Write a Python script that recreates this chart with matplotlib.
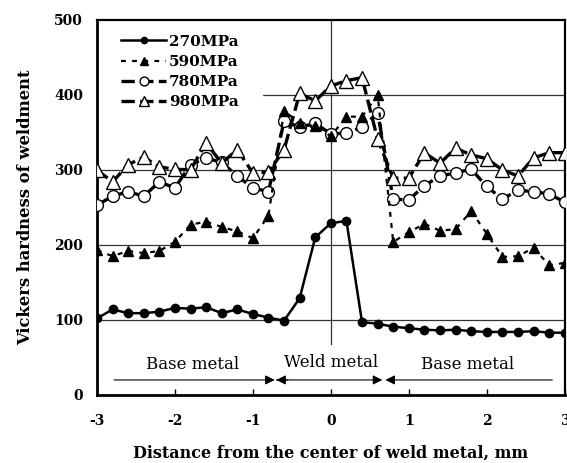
import numpy as np
import matplotlib.pyplot as plt

# distance from weld centre, mm (0.2 mm pitch)
dist = np.round(np.arange(-3.0, 3.01, 0.2), 1)

hv_270 = [102, 114, 109, 109, 111, 116, 115, 117, 109, 114, 108, 103, 99,
          129, 210, 229, 232, 97, 95, 91, 89, 87, 86, 87, 85, 84, 84, 84,
          85, 83, 83]
hv_590 = [193, 185, 192, 189, 192, 204, 227, 231, 224, 218, 209, 239, 379,
          362, 358, 345, 371, 371, 400, 204, 217, 228, 219, 221, 245, 215,
          184, 185, 196, 173, 176]
hv_780 = [253, 265, 271, 265, 284, 276, 307, 316, 310, 292, 276, 271, 365,
          357, 362, 348, 349, 357, 376, 261, 260, 279, 292, 296, 301, 278,
          261, 273, 271, 268, 257]
hv_980 = [300, 284, 307, 317, 304, 301, 300, 336, 309, 327, 296, 297, 327,
          402, 392, 412, 419, 423, 341, 289, 289, 323, 309, 329, 320, 315,
          300, 292, 316, 323, 323]

labels = ['270MPa', '590MPa', '780MPa', '980MPa']

plt.rcParams['font.family'] = ['DejaVu Serif']

fig = plt.figure(figsize=(5.67, 4.63), dpi=100)
ax = fig.add_axes([0.171, 0.147, 0.825, 0.81])

# grid
for yv in [100, 200, 300, 400]:
    ax.axhline(yv, color='#333333', lw=0.9, zorder=1)
ax.axvline(0, ymin=68 / 500, ymax=1, color='#333333', lw=0.9, zorder=1)

ax.plot(dist, hv_270, '-', color='black', lw=1.8, marker='o', ms=6,
        mfc='black', mec='black', label=labels[0], zorder=5)
ax.plot(dist, hv_590, linestyle=(0, (2.2, 2.8)), color='black', lw=1.6,
        marker='^', ms=7, mfc='black', mec='black', label=labels[1], zorder=4)
ax.plot(dist, hv_780, linestyle=(0, (4, 1.6)), color='black', lw=2.4,
        marker='o', ms=8.5, mfc='white', mec='black', mew=1.0,
        label=labels[2], zorder=3)
ax.plot(dist, hv_980, linestyle=(0, (4, 1.6)), color='black', lw=2.4,
        marker='^', ms=10, mfc='white', mec='black', mew=1.0,
        label=labels[3], zorder=3)

# region labels with arrows
arrow_kw = dict(arrowstyle='-|>', color='black', lw=0.8,
                mutation_scale=14, shrinkA=0, shrinkB=0)
spans = [(-2.78, -0.72), (-0.70, 0.66), (2.84, 0.70)]
for x0, x1 in spans:
    ax.annotate('', xy=(x1, 20), xytext=(x0, 20), arrowprops=arrow_kw)
# left-pointing head of the middle span
ax.annotate('', xy=(-0.70, 20), xytext=(-0.55, 20), arrowprops=arrow_kw)
ax.text(-1.77, 40, 'Base metal', ha='center', va='center', fontsize=12)
ax.text(0.0, 43, 'Weld metal', ha='center', va='center', fontsize=12)
ax.text(1.75, 40, 'Base metal', ha='center', va='center', fontsize=12)

ax.set_xlim(-3, 3)
ax.set_ylim(0, 500)
ax.set_xticks([-3, -2, -1, 0, 1, 2, 3])
ax.set_xticklabels(['-3', '-2', '-1', '0', '1', '2', '3'])
ax.set_yticks([0, 100, 200, 300, 400, 500])
ax.tick_params(axis='both', direction='in', length=4, width=1,
               labelsize=10)
ax.tick_params(axis='x', pad=14)
ax.tick_params(axis='y', pad=10, length=0)
for lab in ax.get_xticklabels() + ax.get_yticklabels():
    lab.set_fontweight('bold')

for side in ['left', 'bottom']:
    ax.spines[side].set_linewidth(2.0)
for side in ['top', 'right']:
    ax.spines[side].set_linewidth(1.6)

ax.set_xlabel('Distance from the center of weld metal, mm', fontsize=11.5,
              fontweight='bold', labelpad=12)
ax.set_ylabel('Vickers hardness of weldment', fontsize=11.8,
              fontweight='bold', labelpad=14)

leg = ax.legend(loc='upper left', bbox_to_anchor=(0.0, 1.024), frameon=True,
                fancybox=False, edgecolor='white', framealpha=1,
                prop={'weight': 'bold', 'size': 11}, handlelength=3.0,
                handletextpad=0.15, labelspacing=0.41, borderpad=1.55,
                borderaxespad=0.0, markerscale=0.75)
leg.set_zorder(2.4)

fig.savefig('out.png', dpi=100)
